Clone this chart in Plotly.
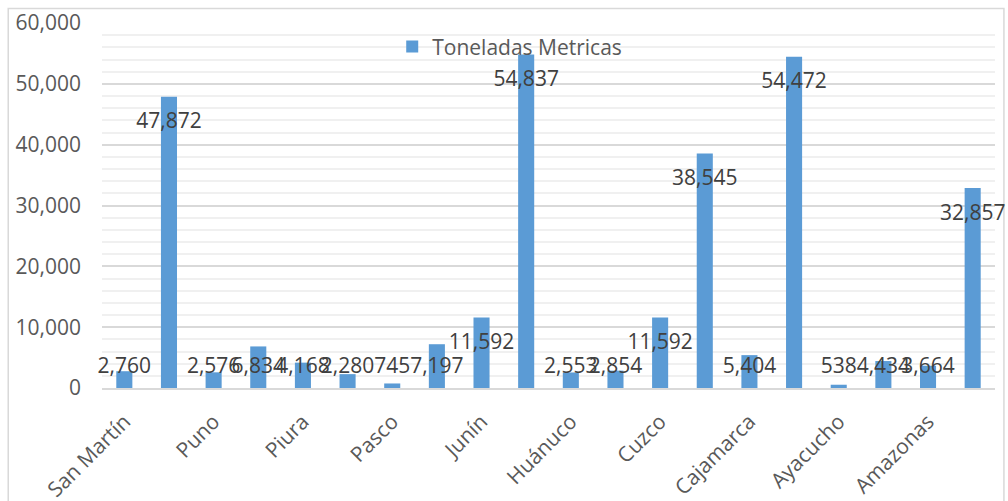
import plotly.graph_objects as go

regions = ["San Martín", "Puno", "Piura", "Pasco", "Junín",
           "Huánuco", "Cuzco", "Cajamarca", "Ayacucho", "Amazonas"]
values = [2760, 47872, 2576, 6834, 4168, 2280, 745, 7197, 11592, 54837,
          2553, 2854, 11592, 38545, 5404, 54472, 538, 4434, 3664, 32857]
series_name = "Toneladas Metricas"

x = list(range(len(values)))
label_y = [max(v - 4300, 3300) for v in values]
label_text = [f"{v:,}" for v in values]

FONT = "Open Sans"
fig = go.Figure()
fig.add_trace(go.Bar(
    x=x, y=values, name=series_name,
    marker=dict(color="#5b9bd5", line=dict(width=0)),
))
fig.add_trace(go.Scatter(
    x=x, y=label_y, text=label_text, mode="text",
    textposition="middle center",
    textfont=dict(family=FONT, size=21, color="#404040"),
    showlegend=False, cliponaxis=False, hoverinfo="skip",
))

fig.update_layout(
    width=1008, height=501,
    margin=dict(l=102, r=13, t=23, b=113),
    paper_bgcolor="white", plot_bgcolor="white",
    bargap=0.64,
    font=dict(family=FONT, size=21, color="#595959"),
    showlegend=True,
    legend=dict(orientation="h", x=0.325, xanchor="left", y=0.935, yanchor="middle",
                font=dict(family=FONT, size=21, color="#595959"),
                bgcolor="rgba(0,0,0,0)", itemwidth=30),
    xaxis=dict(
        tickmode="array", tickvals=x[::2], ticktext=regions,
        tickangle=-45, range=[-0.5, len(values) - 0.5],
        showgrid=False, zeroline=False, showline=True,
        linecolor="#d9d9d9", linewidth=2, ticks="",
        ticklabelstandoff=11, automargin=False,
        tickfont=dict(family=FONT, size=21, color="#595959"),
    ),
    yaxis=dict(
        range=[0, 60000], dtick=10000, tickformat=",",
        showgrid=True, gridcolor="#d9d9d9", gridwidth=1.5,
        zeroline=False, showline=False, ticks="",
        ticklabelstandoff=20, automargin=False,
        tickfont=dict(family=FONT, size=21, color="#595959"),
        minor=dict(dtick=2000, showgrid=True, gridcolor="#f0f0f0", gridwidth=1.5),
    ),
    shapes=[dict(type="rect", xref="paper", yref="paper",
                 x0=-0.105, x1=1.01, y0=-0.35, y1=1.04,
                 line=dict(color="#d9d9d9", width=1.5), layer="below")],
)

fig.write_html("out.html")
